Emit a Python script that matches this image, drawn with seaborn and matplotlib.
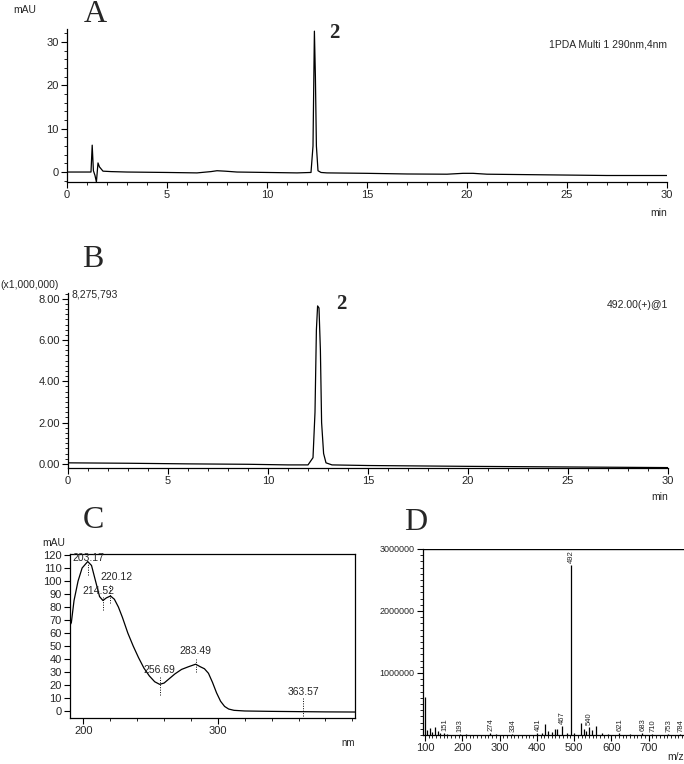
import matplotlib
matplotlib.use("Agg")
import matplotlib.pyplot as plt
import seaborn as sns
from matplotlib.ticker import MultipleLocator, FixedLocator

# ---- panel A: UV chromatogram (290 nm) ----
uv_time = [0, 1.2, 1.26, 1.32, 1.4, 1.47, 1.55, 1.62, 1.8, 2.2, 3, 5, 6.5, 7.2, 7.5, 7.9,
           8.5, 10, 11.5, 12.2, 12.3, 12.37, 12.42, 12.47, 12.55, 12.7, 13, 15, 17, 19,
           19.8, 20.3, 21, 23, 25, 27, 30]
uv_mau = [0, 0, 6.2, 0.3, -0.8, -2.3, 2.1, 1.2, 0.2, 0.1, 0, -0.1, -0.2, 0.1, 0.3, 0.2,
          0, -0.1, -0.2, -0.1, 6, 32.5, 22, 6, 0.3, -0.1, -0.2, -0.3, -0.45, -0.5,
          -0.3, -0.3, -0.5, -0.6, -0.7, -0.8, -0.8]

# ---- panel B: extracted ion chromatogram m/z 492 ----
ms_time = [0, 3, 6, 9, 11, 12.0, 12.25, 12.35, 12.42, 12.48, 12.55, 12.62, 12.68, 12.78,
           12.9, 13.2, 15, 20, 25, 30]
ms_int = [0.05, 0.03, 0.0, -0.02, -0.05, -0.05, 0.3, 2.5, 6.5, 7.65, 7.55, 5.5, 2.0, 0.5,
          0.05, -0.05, -0.08, -0.12, -0.15, -0.18]

# ---- panel C: UV spectrum ----
wl = [190, 191, 193, 196, 199, 203.17, 206, 209, 212, 214.52, 217, 220.12, 223, 226, 229,
      233, 237, 241, 245, 249, 253, 256.69, 260, 264, 268, 273, 278, 283.49, 287, 290, 293,
      296, 299, 302, 305, 308, 312, 320, 340, 360, 380, 402]
absorb = [66, 68, 85, 100, 110, 115, 112, 100, 88, 85, 87, 88.5, 86, 80, 72,
          60, 50, 41, 33, 27, 22.5, 20.5, 21.5, 25, 28.5, 32, 34, 36, 34, 32.5, 29,
          22, 14, 7.5, 3.5, 1.5, 0.5, 0, -0.3, -0.5, -0.7, -0.8]
wl_marks = [203.17, 214.52, 220.12, 256.69, 283.49, 363.57]
wl_mark_lo = [105, 78, 83, 12, 30, -4]
wl_mark_hi = [113, 88, 98, 27, 40, 10]
wl_label_x = [203.5, 211.5, 224.5, 256.7, 283.5, 363.6]
wl_label_y = [114, 88.5, 99.5, 28, 42, 11]

# ---- panel D: mass spectrum ----
mz = [101, 106, 113, 120, 127, 134, 140, 151, 160, 193, 210, 274, 290, 334, 401, 415,
      423, 430, 440, 448, 455, 467, 480, 492, 500, 518, 527, 533, 540, 548, 560, 574,
      590, 621, 650, 683, 710, 753, 784]
mz_int = [0.61e6, 0.08e6, 0.12e6, 0.05e6, 0.13e6, 0.06e6, 0.04e6, 0.04e6, 0.02e6, 0.02e6,
          0.01e6, 0.03e6, 0.01e6, 0.02e6, 0.04e6, 0.03e6, 0.18e6, 0.07e6, 0.05e6, 0.1e6,
          0.1e6, 0.15e6, 0.03e6, 2.75e6, 0.04e6, 0.2e6, 0.1e6, 0.06e6, 0.13e6, 0.08e6,
          0.15e6, 0.03e6, 0.02e6, 0.03e6, 0.01e6, 0.03e6, 0.02e6, 0.02e6, 0.02e6]
mz_labels = [151, 193, 274, 334, 401, 467, 492, 540, 621, 683, 710, 753, 784]

W, H = 684, 764

sns.set_style("ticks")
plt.rcParams["font.family"] = ["Liberation Sans Narrow", "Liberation Sans", "DejaVu Sans"]
plt.rcParams["xtick.direction"] = "out"
plt.rcParams["ytick.direction"] = "out"

fig = plt.figure(figsize=(W / 100, H / 100), dpi=100)


def add_ax(left, top, right, bottom):
    return fig.add_axes([left / W, 1 - bottom / H, (right - left) / W, (bottom - top) / H])


def style_ticks(ax, size=8):
    ax.tick_params(which="major", length=4, width=0.8, labelsize=size, pad=2, color="black")
    ax.tick_params(which="minor", length=2, width=0.6, color="black")
    for s in ax.spines.values():
        s.set_color("black")
        s.set_linewidth(0.9)


def letter(x, y, s):
    fig.text(x / W, 1 - y / H, s, family="Liberation Serif", fontsize=23,
             ha="center", va="center")


# ---------------- A ----------------
axA = add_ax(67, 29, 667, 182)
sns.lineplot(x=uv_time, y=uv_mau, sort=False, estimator=None, color="black", lw=0.9, ax=axA)
axA.set_xlim(0, 30)
axA.set_ylim(-2.3, 33)
axA.xaxis.set_major_locator(MultipleLocator(5))
axA.xaxis.set_minor_locator(MultipleLocator(1))
axA.yaxis.set_major_locator(FixedLocator([0, 10, 20, 30]))
axA.yaxis.set_minor_locator(MultipleLocator(2))
sns.despine(ax=axA)
style_ticks(axA)
axA.text(13.1, 32, "2", family="Liberation Serif", fontsize=15, weight="bold", va="center")
axA.text(30, 29.5, "1PDA Multi 1 290nm,4nm", fontsize=7.5, ha="right", va="center")
axA.text(1.0, -0.2, "min", transform=axA.transAxes, fontsize=7.5, ha="right", va="center")
fig.text(13 / W, 1 - 10 / H, "mAU", fontsize=7.5, va="center")
letter(95, 14, "A")

# ---------------- B ----------------
axB = add_ax(68, 293, 668, 468)
sns.lineplot(x=ms_time, y=ms_int, sort=False, estimator=None, color="black", lw=0.9, ax=axB)
axB.set_xlim(0, 30)
axB.set_ylim(-0.2, 8.2758)
axB.xaxis.set_major_locator(MultipleLocator(5))
axB.xaxis.set_minor_locator(MultipleLocator(1))
axB.yaxis.set_major_locator(FixedLocator([0, 2, 4, 6, 8]))
axB.yaxis.set_minor_locator(MultipleLocator(0.25))
axB.yaxis.set_major_formatter(lambda v, p: f"{v:.2f}")
sns.despine(ax=axB)
style_ticks(axB)
axB.text(13.4, 7.75, "2", family="Liberation Serif", fontsize=15, weight="bold", va="center")
axB.text(30, 7.7, "492.00(+)@1", fontsize=7.5, ha="right", va="center")
axB.text(0.15, 8.2, "8,275,793", fontsize=7.5, ha="left", va="center")
axB.text(1.0, -0.165, "min", transform=axB.transAxes, fontsize=7.5, ha="right", va="center")
fig.text(0 / W, 1 - 285 / H, "(x1,000,000)", fontsize=7.5, va="center")
letter(93, 259, "B")

# ---------------- C ----------------
axC = add_ax(70, 554, 355, 718)
sns.lineplot(x=wl, y=absorb, sort=False, estimator=None, color="black", lw=0.9, ax=axC)
axC.vlines(wl_marks, wl_mark_lo, wl_mark_hi, colors="black", linestyles=(0, (1, 1.5)), lw=0.7)
for x, y, m in zip(wl_label_x, wl_label_y, wl_marks):
    axC.text(x, y, f"{m:.2f}", fontsize=7.5, ha="center", va="bottom")
axC.set_xlim(190, 402)
axC.set_ylim(-5.4, 120.8)
axC.xaxis.set_major_locator(FixedLocator([200, 300]))
axC.xaxis.set_minor_locator(MultipleLocator(20))
axC.yaxis.set_major_locator(MultipleLocator(10))
style_ticks(axC)
axC.text(0.975, -0.155, "nm", transform=axC.transAxes, fontsize=7, ha="center", va="center")
fig.text(42 / W, 1 - 543 / H, "mAU", fontsize=7.5, va="center")
letter(93, 520, "C")

# ---------------- D ----------------
axD = add_ax(423, 549, 684, 735)
axD.vlines(mz, 0, mz_int, colors="black", lw=0.9)
axD.plot([95, 830], [3.0e6, 3.0e6], color="black", lw=1.0)
lookup = dict(zip(mz, mz_int))
for m in mz_labels:
    axD.text(m + 2, lookup[m] + 0.03e6, str(m), rotation=90, fontsize=5.5,
             ha="center", va="bottom")
axD.set_xlim(94.6, 795)
axD.set_ylim(0, 3.0e6)
axD.xaxis.set_major_locator(MultipleLocator(100))
axD.xaxis.set_minor_locator(MultipleLocator(10))
axD.yaxis.set_major_locator(FixedLocator([1e6, 2e6, 3e6]))
axD.yaxis.set_minor_locator(MultipleLocator(1e5))
axD.yaxis.set_major_formatter(lambda v, p: f"{int(v)}")
sns.despine(ax=axD)
style_ticks(axD, size=8)
axD.tick_params(axis="y", labelsize=6.5)
axD.text(1.0, -0.12, "m/z", transform=axD.transAxes, fontsize=7.5, ha="right", va="center")
letter(416, 522, "D")

fig.savefig("out.png", dpi=100)
